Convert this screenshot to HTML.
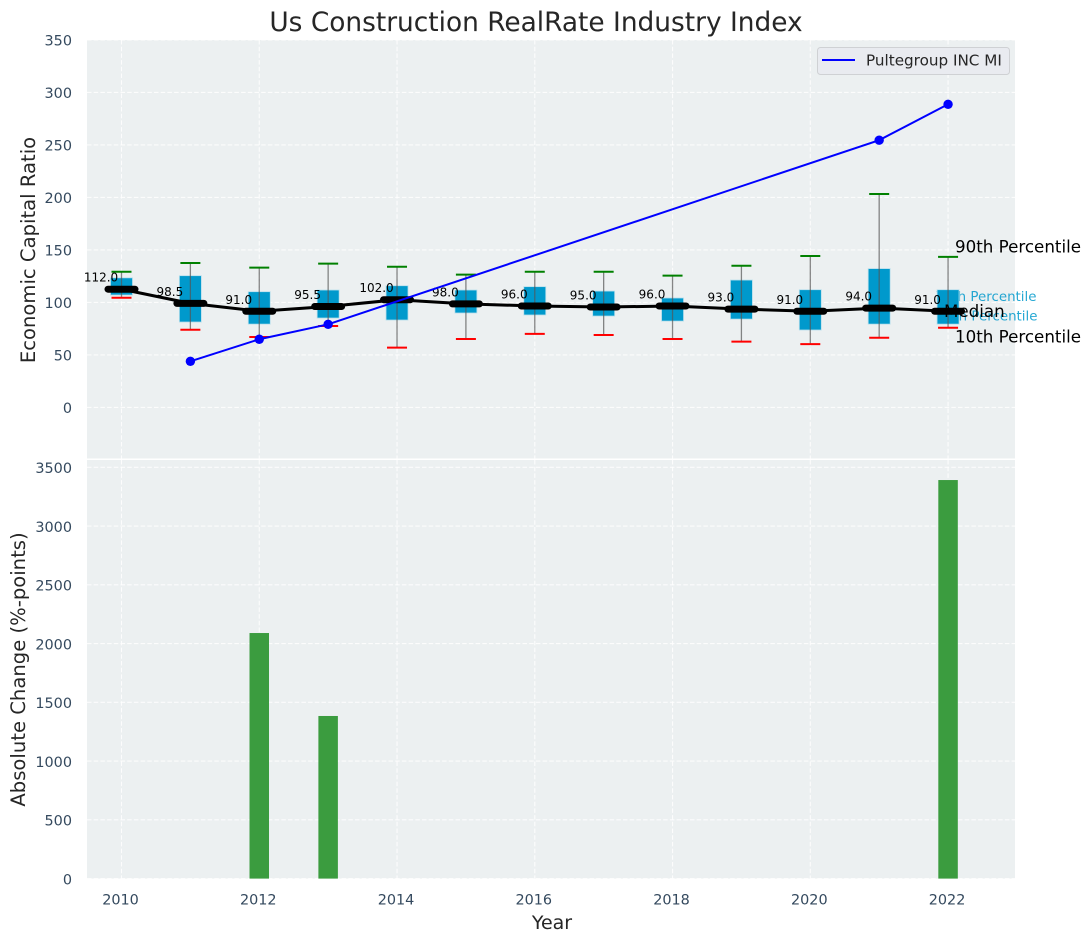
<!DOCTYPE html>
<html>
<head>
<meta charset="utf-8">
<title>Us Construction RealRate Industry Index</title>
<style>
html,body{margin:0;padding:0;background:#fff;}
svg{display:block;}
text{font-family:"DejaVu Sans","Liberation Sans",sans-serif;}
.tick{font-size:14.4px;fill:#34495e;}
.axis-title{font-size:19.6px;fill:#262626;}
.note{font-size:16.7px;fill:#000;}
.blue-note{font-size:13.4px;fill:#0099cc;opacity:.85;}
.val{font-size:12px;fill:#000;}
</style>
</head>
<body>
<svg id="chart" xmlns="http://www.w3.org/2000/svg" width="1090" height="942" viewBox="0 0 1090 942">
  <rect width="1090" height="942" fill="#fff"/>
  <rect x="87" y="40" width="928" height="418.5" fill="#ecf0f1"/>
  <rect x="87" y="460" width="928" height="418.6" fill="#ecf0f1"/>
  <g id="grid"></g>
  <g id="notes-under">
    <text class="blue-note" x="1036.5" y="301" text-anchor="end">75th Percentile</text>
    <text class="blue-note" x="1037.5" y="320.5" text-anchor="end">25th Percentile</text>
  </g>
  <g id="boxes"></g>
  <g id="bars"></g>
  <g id="median-layer"></g>
  <g id="pulte-layer"></g>
  <g id="ticks"></g>
  <text x="536" y="31" text-anchor="middle" font-size="26.4px" fill="#262626">Us Construction RealRate Industry Index</text>
  <text class="axis-title" transform="translate(35,250) rotate(-90)" text-anchor="middle">Economic Capital Ratio</text>
  <text class="axis-title" transform="translate(25,669.5) rotate(-90)" text-anchor="middle">Absolute Change (%-points)</text>
  <text class="axis-title" style="font-size:19px" x="552" y="929" text-anchor="middle">Year</text>
  <text class="note" x="955" y="252.5">90th Percentile</text>
  <text class="note" x="944" y="317">Median</text>
  <text class="note" x="955" y="342.5">10th Percentile</text>
  <g>
    <rect x="817.5" y="47.5" width="192" height="27" rx="3" fill="#e9ebf0" stroke="#cfd1d4" stroke-width="1"/>
    <line x1="822" y1="60" x2="855" y2="60" stroke="#0000ff" stroke-width="2"/>
    <text x="866" y="65.5" font-size="15.2px" fill="#262626">Pultegroup INC MI</text>
  </g>
</svg>
<script>
var years = [2010,2011,2012,2013,2014,2015,2016,2017,2018,2019,2020,2021,2022];
var medians = [112,98.5,91,95.5,102,98,96,95,96,93,91,94,91];
var p90 = [129.25,137.5,133.06,136.87,133.96,126.45,129.25,129.25,125.45,134.96,144.19,203.2,143.3];
var p75 = [123.4,125.45,110.2,111.8,115.9,111.8,115,110.8,104.2,121.3,112.1,132.2,112.1];
var p25 = [107,81.3,79.3,85.1,83.2,89.9,88,87,82.2,84.1,73.7,79.3,79.3];
var p10 = [104.4,74,67,77.5,56.9,65.1,70,69,65.1,62.6,60.3,66.3,75.9];
var pulteYears = [2011,2012,2013,2021,2022];
var pulteValues = [43.9,64.9,79.1,254.5,288.7];
var changes = [0,0,2090,1384,0,0,0,0,0,0,0,0,3392];
var xTicks = [2010,2012,2014,2016,2018,2020,2022];
var topTicks = [0,50,100,150,200,250,300,350];
var bottomTicks = [0,500,1000,1500,2000,2500,3000,3500];

var NS = 'http://www.w3.org/2000/svg';
function x(year){ return 121.5 + (year - 2010) * 68.88; }
function yTop(v){ return 407.4 - v * 1.05; }
function yBottom(v){ return 878.6 - v * 0.1175; }
function make(tag, parent, attrs){
  var el = document.createElementNS(NS, tag);
  for (var k in attrs) el.setAttribute(k, attrs[k]);
  parent.appendChild(el);
  return el;
}
var grid = document.getElementById('grid');
var ticks = document.getElementById('ticks');
var boxes = document.getElementById('boxes');
var bars = document.getElementById('bars');
var medianLayer = document.getElementById('median-layer');
var pulteLayer = document.getElementById('pulte-layer');
var GRID = {stroke:'#ffffff','stroke-width':1.1,'stroke-dasharray':'4.5 2.2',opacity:0.85};
function gridLine(x1,y1,x2,y2){
  var l = make('line', grid, {x1:x1,y1:y1,x2:x2,y2:y2,stroke:GRID.stroke,'stroke-width':GRID['stroke-width'],'stroke-dasharray':GRID['stroke-dasharray'],opacity:GRID.opacity});
  
  
}
xTicks.forEach(function(t){
  gridLine(x(t),40,x(t),458.5);
  gridLine(x(t),460,x(t),878.6);
  var lab = make('text', ticks, {class:'tick',x:x(t)-1,y:904.5,'text-anchor':'middle'});
  lab.textContent = t;
  
  
});
topTicks.forEach(function(t){
  gridLine(87,yTop(t),1015,yTop(t));
  var lab = make('text', ticks, {class:'tick',x:72,y:yTop(t)+5.8,'text-anchor':'end'});
  lab.textContent = t;
  
  
});
bottomTicks.forEach(function(t){
  gridLine(87,yBottom(t),1015,yBottom(t));
  var lab = make('text', ticks, {class:'tick',x:72,y:yBottom(t)+5.8,'text-anchor':'end'});
  lab.textContent = t;
  
  
});
years.forEach(function(yr,i){
  var cx = x(yr);
  var box = make('rect', boxes, {x:cx-11,y:yTop(p75[i]),width:22,height:yTop(p25[i])-yTop(p75[i]),fill:'#0099cc',stroke:'#b9dfec','stroke-width':0.8});
  
  
  var wh = make('line', boxes, {x1:cx,y1:yTop(p90[i]),x2:cx,y2:yTop(p10[i]),stroke:'#555','stroke-width':1.3,opacity:0.7});
  
  
  var hi = make('line', boxes, {x1:cx-10,y1:yTop(p90[i]),x2:cx+10,y2:yTop(p90[i]),stroke:'#008000','stroke-width':2});
  
  
  var lo = make('line', boxes, {x1:cx-10,y1:yTop(p10[i]),x2:cx+10,y2:yTop(p10[i]),stroke:'#ff0000','stroke-width':2});
  
  
  var barHeight = 878.6 - yBottom(changes[i]);
  if (changes[i] > 0) {
    var bar = make('rect', bars, {x:cx-9.75,y:yBottom(changes[i]),width:19.5,height:barHeight,fill:'#3b9c3f'});
    
    
  }
});
var medPts = years.map(function(yr,i){ return x(yr)+','+(yTop(medians[i])-0.6); }).join(' ');
var medLine = make('polyline', medianLayer, {points:medPts,fill:'none',stroke:'#000','stroke-width':3,'stroke-linejoin':'round'});


years.forEach(function(yr,i){
  var cx = x(yr), cy = yTop(medians[i]) - 0.6;
  var m = make('line', medianLayer, {x1:cx-13.5,y1:cy,x2:cx+13.5,y2:cy,stroke:'#000','stroke-width':7,'stroke-linecap':'round'});
  
  
  var t = make('text', medianLayer, {class:'val',x:cx-20.5,y:cy-7.5,'text-anchor':'middle'});
  t.textContent = medians[i].toFixed(1);
  
  
});
var pultePts = pulteYears.map(function(yr,i){ return x(yr)+','+yTop(pulteValues[i]); }).join(' ');
var pulteLine = make('polyline', pulteLayer, {points:pultePts,fill:'none',stroke:'#0000ff','stroke-width':2});


pulteYears.forEach(function(yr,i){
  var c = make('circle', pulteLayer, {cx:x(yr),cy:yTop(pulteValues[i]),r:4.7,fill:'#0000ff'});
  
  
});
</script>
</body>
</html>
